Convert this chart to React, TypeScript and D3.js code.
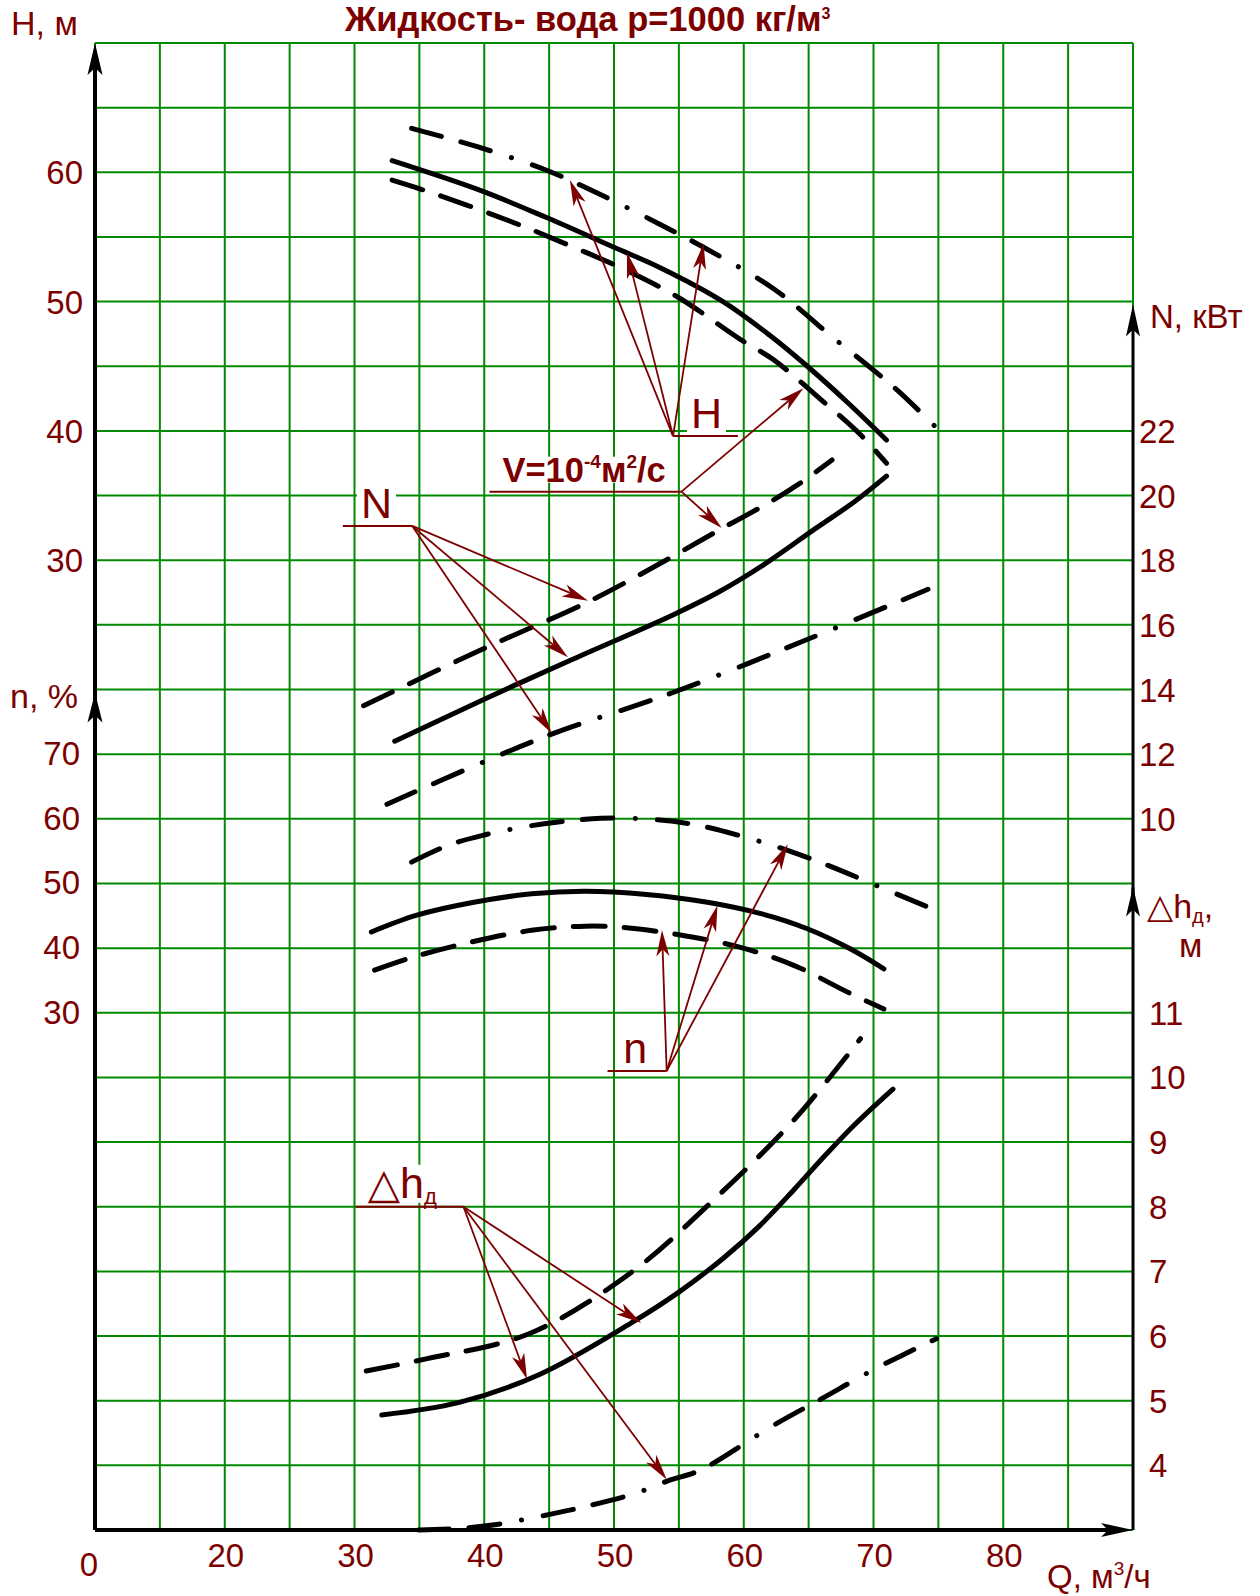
import React, { useEffect, useRef } from 'react';
import * as d3 from 'd3';

// Q axis, m3/h (broken between 0 and 20)
const qTicks = [20, 30, 40, 50, 60, 70, 80];
const headTicks = [60, 50, 40, 30];
const effTicks = [70, 60, 50, 40, 30];
const powerTicks = [22, 20, 18, 16, 14, 12, 10];
const npshTicks = [11, 10, 9, 8, 7, 6, 5, 4];

// H(Q), m : solid = water, dashed = viscous, dash-dot = upper
const headQ = [32.9, 39.7, 44.8, 50.0, 53.6, 58.4, 62.0, 64.9, 68.0, 71.0];
const head = [60.9, 58.6, 56.5, 54.2, 52.6, 50.0, 47.4, 45.0, 42.2, 39.3];
const headViscQ = [32.9, 35.7, 38.7, 42.8, 46.9, 51.0, 55.0, 59.7, 62.3, 65.75, 69.0, 71.0];
const headVisc = [59.4, 58.5, 57.45, 55.9, 54.2, 52.4, 50.3, 47.1, 45.5, 42.6, 39.7, 37.5];
const headMaxQ = [34.4, 39.4, 44.7, 48.5, 53.3, 56.9, 62.3, 66.9, 70.0, 72.0, 74.9];
const headMax = [63.4, 62.0, 60.2, 58.5, 56.1, 54.2, 51.0, 47.2, 44.7, 43.0, 40.2];

// N(Q), kW
const powerQ = [33.1, 40.0, 46.6, 54.5, 58.0, 61.5, 65.6, 68.5, 71.0];
const power = [12.4, 13.7, 14.9, 16.3, 17.0, 17.85, 19.0, 19.8, 20.6];
const powerViscQ = [30.7, 39.6, 48.2, 54.0, 58.4, 61.8, 64.4, 66.8];
const powerVisc = [13.5, 15.2, 16.75, 18.0, 19.0, 19.75, 20.4, 21.1];
const powerMaxQ = [32.5, 39.6, 45.4, 54.5, 64.6, 74.2];
const powerMax = [10.45, 11.7, 12.65, 13.9, 15.5, 17.1];

// efficiency, %
const effQ = [31.3, 34.8, 39.2, 43.65, 47.8, 52.5, 57.2, 61.4, 64.9, 68.2, 70.8];
const eff = [42.5, 45.1, 47.1, 48.4, 48.8, 48.3, 47.1, 45.3, 43.0, 39.9, 36.8];
const effViscQ = [31.55, 34.5, 38.9, 43.65, 47.8, 50.7, 54.9, 59.6, 63.9, 68.2, 70.8];
const effVisc = [36.6, 38.6, 40.9, 42.75, 43.4, 43.2, 42.1, 40.2, 37.3, 33.0, 30.6];
const effMaxQ = [34.4, 37.2, 40.0, 42.9, 45.7, 49.0, 53.0, 56.5, 60.9, 63.7, 66.5, 70.8, 75.1];
const effMax = [53.3, 55.9, 57.5, 58.7, 59.5, 60.1, 59.9, 59.0, 56.7, 54.9, 52.8, 49.2, 45.6];

// NPSH, m
const npshQ = [32.1, 38.0, 44.3, 51.3, 55.0, 58.4, 61.2, 63.9, 66.3, 68.6, 71.5];
const npsh = [4.78, 4.97, 5.41, 6.2, 6.68, 7.2, 7.7, 8.27, 8.8, 9.28, 9.82];
const npshViscQ = [30.9, 35.6, 43.5, 51.3, 57.6, 63.9, 69.0];
const npshVisc = [5.46, 5.65, 6.04, 6.98, 8.09, 9.35, 10.6];
const npshMaxQ = [34.9, 37.8, 41.1, 44.0, 47.1, 51.55, 54.3, 56.6, 62.3, 66.0, 70.1, 74.85];
const npshMax = [3.0, 3.02, 3.09, 3.2, 3.33, 3.56, 3.77, 3.92, 4.62, 5.03, 5.49, 5.96];

// callouts, in data units [Q, value]
const headCallout = [54.55, 39.6];
const headCalloutEnd = 59.55;
const headTips = [[46.6, 59.4], [51.0, 53.8], [56.9, 54.5]];
const viscCallout = [55.2, 35.3];
const viscCalloutEnd = 40.4;
const viscHeadTip = [64.6, 43.3];
const viscPowerTip = [58.3, 19.0];
const powerCallout = [34.45, 19.06];
const powerCalloutEnd = 29.1;
const powerTips = [[48.0, 16.75], [46.45, 15.0], [45.2, 12.65]];
const effCallout = [54.06, 21.0];
const effCalloutEnd = 49.5;
const effTips = [[53.7, 42.75], [57.97, 46.6], [63.4, 56.05]];
const npshCallout = [38.4, 8.0];
const npshCalloutEnd = 30.1;
const npshTips = [[52.1, 6.2], [43.3, 5.33], [54.06, 3.78]];

const FONT = '"Liberation Sans", Arial, sans-serif';
const RED = '#7d0000';
const GREEN = '#008a00';

export default function App() {
  const ref = useRef<SVGSVGElement>(null);

  useEffect(() => {
    const svg = d3.select(ref.current);
    svg.selectAll('*').remove();

    const left = 95, right = 1133, top = 43, bottom = 1530;
    const cell = (bottom - top) / 23;
    const x = d3.scaleLinear().domain([10, 90]).range([left, right]);
    const rows = d3.scaleLinear().domain([0, 23]).range([top, bottom]);
    const yH = d3.scaleLinear().domain([20, 70]).range([top + 10 * cell, top]);
    const yEff = d3.scaleLinear().domain([30, 80]).range([top + 15 * cell, top + 10 * cell]);
    const yN = d3.scaleLinear().domain([10, 26]).range([top + 12 * cell, top + 4 * cell]);
    const yD = d3.scaleLinear().domain([3, 13]).range([bottom, top + 13 * cell]);

    const grid = svg.append('g');
    const boxes = svg.append('g');
    const axes = svg.append('g');
    const lines = svg.append('g');
    const notes = svg.append('g');

    grid.selectAll('.v').data(d3.range(10, 91, 5)).enter().append('line')
      .attr('x1', (d) => x(d)).attr('x2', (d) => x(d))
      .attr('y1', top).attr('y2', bottom)
      .attr('stroke', GREEN).attr('stroke-width', 2);
    grid.selectAll('.h').data(d3.range(0, 24)).enter().append('line')
      .attr('x1', left).attr('x2', right)
      .attr('y1', (d) => rows(d)).attr('y2', (d) => rows(d))
      .attr('stroke', GREEN).attr('stroke-width', 2);

    const arrow = (g: any, x1: number, y1: number, x2: number, y2: number,
      len: number, hw: number, notch: number, color: string, w: number) => {
      const a = Math.atan2(y2 - y1, x2 - x1);
      const ux = Math.cos(a), uy = Math.sin(a);
      const px = -uy, py = ux;
      const bx = x2 - ux * len, by = y2 - uy * len;
      const nx = x2 - ux * (len - notch), ny = y2 - uy * (len - notch);
      g.append('line').attr('x1', x1).attr('y1', y1).attr('x2', nx).attr('y2', ny)
        .attr('stroke', color).attr('stroke-width', w);
      g.append('path')
        .attr('d', `M${x2},${y2}L${bx + px * hw},${by + py * hw}L${nx},${ny}L${bx - px * hw},${by - py * hw}Z`)
        .attr('fill', color);
    };

    // axes
    arrow(axes, left, bottom, left, top, 32, 7.5, 7, '#000', 4);
    arrow(axes, left, yEff(80) + 4, left, yEff(80) + 3, 30, 7.5, 7, '#000', 4);
    arrow(axes, left, bottom, right, bottom, 32, 7, 7, '#000', 4);
    arrow(axes, right, bottom, right, yN(26) + 3, 32, 7, 7, '#000', 3);
    arrow(axes, right, yD(13) + 4, right, yD(13) + 3, 30, 7, 7, '#000', 3);

    const label = (g: any, tx: number, ty: number, size: number, anchor = 'start', weight = 'normal') =>
      g.append('text').attr('x', tx).attr('y', ty).attr('font-family', FONT)
        .attr('font-size', size).attr('font-weight', weight).attr('fill', RED)
        .attr('text-anchor', anchor);

    // tick labels
    qTicks.forEach((q) => label(axes, x(q) + 1, bottom + 37, 33, 'middle').text(q));
    label(axes, left - 6, bottom + 46, 33, 'middle').text('0');
    headTicks.forEach((h) => label(axes, 83, yH(h) + 12, 33, 'end').text(h));
    effTicks.forEach((n) => label(axes, 80, yEff(n) + 11, 33, 'end').text(n));
    powerTicks.forEach((n) => label(axes, right + 6, yN(n) + 12, 33).text(n));
    npshTicks.forEach((n) => label(axes, right + 16, yD(n) + 12, 33).text(n));

    // axis titles
    label(axes, 11, 35, 34).text('H,  м');
    label(axes, 10, 708, 34).text('n,  %');
    label(axes, 1150, 328, 33).text('N, кВт');
    const dTitle = label(axes, 1147, 918, 34);
    dTitle.append('tspan').attr('font-family', '"DejaVu Sans"').attr('font-size', 34).text('△');
    dTitle.append('tspan').text('h');
    dTitle.append('tspan').attr('font-size', 20).attr('dy', 5).text('д');
    dTitle.append('tspan').attr('dy', -5).text(',');
    label(axes, 1179, 957, 34).text('м');
    const qTitle = label(axes, 1047, 1588, 33);
    qTitle.append('tspan').text('Q, м');
    qTitle.append('tspan').attr('font-size', 19).attr('dy', -13).text('3');
    qTitle.append('tspan').attr('dy', 13).text('/ч');

    const title = label(svg, 345, 31, 34.5, 'start', 'bold');
    title.append('tspan').text('Жидкость- вода р=1000 кг/м');
    title.append('tspan').attr('font-size', 16).attr('dy', -12).text('3');

    // curves
    const dashed = '32,19';
    const dashDot = '31,20,31,22,0.1,22';
    const series: [number[], number[], any, string | null][] = [
      [headQ, head, yH, null], [headViscQ, headVisc, yH, dashed], [headMaxQ, headMax, yH, dashDot],
      [powerQ, power, yN, null], [powerViscQ, powerVisc, yN, dashed], [powerMaxQ, powerMax, yN, dashDot],
      [effQ, eff, yEff, null], [effViscQ, effVisc, yEff, dashed], [effMaxQ, effMax, yEff, dashDot],
      [npshQ, npsh, yD, null], [npshViscQ, npshVisc, yD, dashed], [npshMaxQ, npshMax, yD, dashDot],
    ];
    series.forEach(([qs, vs, y, dash]) => {
      const line = d3.line<number>()
        .x((d, i) => x(qs[i]))
        .y((d) => y(d))
        .curve(d3.curveCatmullRom.alpha(0.5));
      lines.append('path').attr('d', line(vs))
        .attr('fill', 'none').attr('stroke', '#000').attr('stroke-width', 5)
        .attr('stroke-linecap', 'round').attr('stroke-linejoin', 'round')
        .attr('stroke-dasharray', dash);
    });

    // callouts
    const box = (t: any, px = 4, py = 3) => {
      const b = (t.node() as SVGTextElement).getBBox();
      boxes.append('rect').attr('x', b.x - px).attr('y', b.y + py)
        .attr('width', b.width + 2 * px).attr('height', b.height - 2 * py).attr('fill', '#fff');
    };
    const callout = (vx: number, vy: number, ex: number, tips: number[][]) => {
      notes.append('line').attr('x1', Math.min(vx, ex)).attr('x2', Math.max(vx, ex))
        .attr('y1', vy).attr('y2', vy).attr('stroke', RED).attr('stroke-width', 2);
      tips.forEach(([tx, ty]) => arrow(notes, vx, vy, tx, ty, 26, 6.5, 7, RED, 1.8));
    };

    const hv = [x(headCallout[0]), yH(headCallout[1])];
    callout(hv[0], hv[1], x(headCalloutEnd), headTips.map(([q, h]) => [x(q), yH(h)]));
    box(label(notes, (hv[0] + x(headCalloutEnd)) / 2 + 1, hv[1] - 8, 43, 'middle').text('H'));

    const vv = [x(viscCallout[0]), yH(viscCallout[1])];
    callout(vv[0], vv[1], x(viscCalloutEnd),
      [[x(viscHeadTip[0]), yH(viscHeadTip[1])], [x(viscPowerTip[0]), yN(viscPowerTip[1])]]);
    const vt = label(notes, x(viscCalloutEnd) + 13, vv[1] - 10, 34.5, 'start', 'bold');
    vt.append('tspan').text('V=10');
    vt.append('tspan').attr('font-size', 19).attr('dy', -14).text('-4');
    vt.append('tspan').attr('dy', 14).text('м');
    vt.append('tspan').attr('font-size', 19).attr('dy', -14).text('2');
    vt.append('tspan').attr('dy', 14).text('/с');
    box(vt, 6, 6);

    const nv = [x(powerCallout[0]), yN(powerCallout[1])];
    callout(nv[0], nv[1], x(powerCalloutEnd), powerTips.map(([q, n]) => [x(q), yN(n)]));
    box(label(notes, (nv[0] + x(powerCalloutEnd)) / 2 - 1, nv[1] - 8, 43, 'middle').text('N'));

    const ev = [x(effCallout[0]), yEff(effCallout[1])];
    callout(ev[0], ev[1], x(effCalloutEnd), effTips.map(([q, n]) => [x(q), yEff(n)]));
    box(label(notes, (ev[0] + x(effCalloutEnd)) / 2 - 2, ev[1] - 8, 43, 'middle').text('n'));

    const dv = [x(npshCallout[0]), yD(npshCallout[1])];
    callout(dv[0], dv[1], x(npshCalloutEnd), npshTips.map(([q, n]) => [x(q), yD(n)]));
    const dt = label(notes, x(npshCalloutEnd) + 12, dv[1] - 9, 43);
    dt.append('tspan').attr('font-family', '"DejaVu Sans"').attr('font-size', 42).text('△');
    dt.append('tspan').text('h');
    dt.append('tspan').attr('font-size', 22).attr('dy', 6).text('д');
    box(dt, 4, 6);
  }, []);

  return (
    <svg ref={ref} width={1260} height={1596}
      style={{ position: 'absolute', left: 0, top: 0, background: '#fff', display: 'block' }} />
  );
}
